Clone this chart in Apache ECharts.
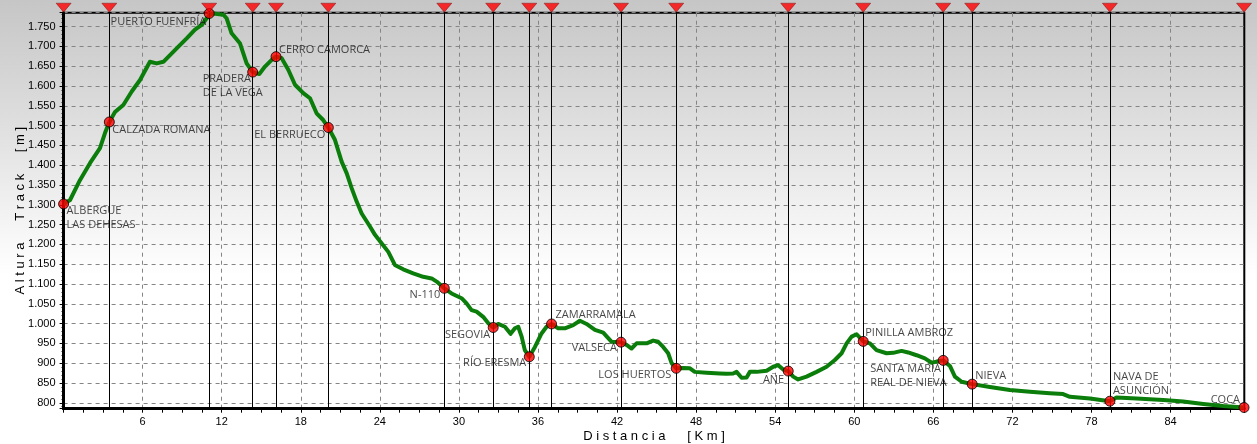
<!DOCTYPE html>
<html>
<head>
<meta charset="utf-8">
<script src="https://cdn.jsdelivr.net/npm/echarts@6/dist/echarts.min.js"></script>
<style>
html,body{margin:0;padding:0;background:#fff;}
#chart{width:1257px;height:444px;}
</style>
</head>
<body>
<div id="chart"></div>
<script>
// ---- data ----
const profileKm = [0,0.49,1.24,2.0,2.76,3.14,3.47,3.9,4.53,5.17,5.8,6.55,7.06,7.57,8.58,9.34,9.97,10.48,10.86,11.1,11.36,12.12,12.37,12.75,13.38,13.89,14.35,14.85,15.28,15.79,16.12,16.55,17.05,17.56,18.19,18.7,19.2,19.7,20.09,20.59,21.1,21.48,21.86,22.24,22.62,23.25,23.63,24.13,24.64,25.14,25.77,26.53,27.29,27.93,28.31,28.89,29.44,30.2,30.58,30.96,31.34,31.84,32.23,32.6,32.98,33.49,33.92,34.25,34.5,34.76,35.0,35.34,35.77,36.27,36.65,37.03,37.53,38.04,38.67,39.18,39.69,40.32,40.95,41.59,42.3,42.72,43.1,43.48,44.24,44.74,45.12,45.5,45.88,46.14,46.49,47.02,47.53,47.9,48.79,49.8,50.31,50.81,51.07,51.45,51.83,52.08,52.59,53.35,53.85,54.23,54.61,54.99,55.37,55.74,56.38,57.14,57.9,58.53,59.04,59.42,59.8,60.18,60.68,61.19,61.69,62.45,62.96,63.59,64.09,64.73,65.36,65.87,66.25,66.75,67.26,67.64,68.15,68.95,70.29,71.81,73.33,74.84,75.85,76.36,77.88,79.4,79.9,81.42,83.44,84.96,86.48,88.0,89.58];
const profileElev = [1302,1312,1362,1405,1443,1481,1509,1534,1552,1586,1615,1661,1657,1661,1695,1720,1742,1754,1771,1780,1783,1780,1771,1733,1708,1657,1635,1630,1649,1666,1674,1670,1641,1603,1582,1569,1531,1514,1495,1464,1409,1380,1342,1308,1278,1245,1224,1203,1181,1148,1137,1127,1118,1114,1106,1089,1076,1064,1051,1034,1030,1017,1001,990,999,992,974,988,992,967,933,916,941,975,992,999,988,988,996,1007,999,984,977,954,953,946,937,950,950,957,954,941,925,900,887,888,887,878,876,874,873,874,878,863,864,878,878,881,891,895,884,880,866,859,866,878,891,908,925,950,967,973,955,950,933,925,926,931,927,920,912,901,904,907,893,866,853,847,840,832,828,824,822,815,811,804,813,811,807,803,797,792,788];

const wpNames = ['ALBERGUE\nLAS DEHESAS','CALZADA ROMANA','PUERTO FUENFRÍA','PRADERA\nDE LA VEGA','CERRO CAMORCA','EL BERRUECO','N-110','SEGOVIA','RÍO ERESMA','ZAMARRAMALA','VALSECA','LOS HUERTOS','AÑE','PINILLA AMBROZ','SANTA MARIA\nREAL DE NIEVA','NIEVA','NAVA DE\nASUNCIÓN','COCA'];
const wpKm = [0,3.47,11.05,14.35,16.12,20.09,28.89,32.6,35.34,37.03,42.3,46.49,54.99,60.68,66.75,68.95,79.4,89.58];
const wpElev = [1302,1509,1783,1635,1674,1495,1089,990,916,999,953,887,880,955,907,847,804,788];

const xMin = 0, xMax = 89.6, xInterval = 6;
const yMin = 785, yMax = 1785, ySplits = 20;
const xTitle = 'D i s t a n c i a      [ K m ]';
const yTitle = 'A l t u r a      T r a c k      [ m ]';

// ---- label layout (style only) ----
const wpLabelLayout = [
  ['left',[3,0]],['left',[3,1]],['right',[-3,1]],['left',[-50,0]],['left',[3,-14]],
  ['right',[-3,0]],['right',[-4,0]],['right',[-3,0]],['right',[-3,-1]],['left',[4,-16]],
  ['right',[-4,-1]],['right',[-5,0]],['right',[-4,2]],['left',[2,-16]],['left',[-73,1]],
  ['left',[3,-15]],['left',[3,-31]],['right',[-4,-15]]
];

const fmtThousands = v => {
  const s = String(Math.round(v));
  return s.length > 3 ? s.slice(0, s.length - 3) + '.' + s.slice(-3) : s;
};

const chart = echarts.init(document.getElementById('chart'), null, {renderer:'canvas'});
const option = {
  animation: false,
  backgroundColor: {
    type: 'linear', x: 0, y: 0, x2: 0, y2: 1,
    colorStops: [
      {offset: 0, color: '#c6c6c6'},
      {offset: 0.25, color: '#dcdcdc'},
      {offset: 0.5, color: '#f4f4f4'},
      {offset: 0.62, color: '#ffffff'},
      {offset: 1, color: '#ffffff'}
    ]
  },
  grid: {
    left: 63.6, right: 12.7, top: 12.7, bottom: 35.3,
    outerBoundsMode: 'none', containLabel: false,
    show: true, borderColor: '#000', borderWidth: 2, backgroundColor: 'transparent'
  },
  xAxis: {
    type: 'value', min: xMin, max: xMax, interval: xInterval,
    name: xTitle, nameLocation: 'middle', nameGap: 21, nameMoveOverlap: false,
    nameTextStyle: {fontFamily: 'Liberation Sans, Arial', fontSize: 13, color: '#000'},
    axisLine: {show: true, onZero: false, lineStyle: {color: '#000', width: 3}},
    axisTick: {show: true, length: 4, lineStyle: {color: '#000', width: 1}},
    minorTick: {show: true, splitNumber: 4, length: 4, lineStyle: {color: '#000', width: 1}},
    axisLabel: {
      margin: 8, fontFamily: 'Liberation Sans, Arial', fontSize: 11, color: '#000',
      showMinLabel: false, showMaxLabel: false
    },
    splitLine: {show: true, lineStyle: {color: '#858585', type: [4, 4], width: 1}}
  },
  yAxis: {
    type: 'value', min: yMin, max: yMax, splitNumber: ySplits,
    name: yTitle, nameLocation: 'middle', nameGap: 37, nameMoveOverlap: false,
    nameTextStyle: {fontFamily: 'Liberation Sans, Arial', fontSize: 13, color: '#000'},
    axisLine: {show: true, lineStyle: {color: '#000', width: 3}},
    axisTick: {show: true, length: 4, lineStyle: {color: '#000', width: 1}},
    minorTick: {show: true, splitNumber: 5, length: 2, lineStyle: {color: '#000', width: 1}},
    axisLabel: {
      margin: 8, fontFamily: 'Liberation Sans, Arial', fontSize: 11, color: '#000',
      showMinLabel: false, showMaxLabel: false,
      formatter: v => fmtThousands(v)
    },
    splitLine: {show: true, lineStyle: {color: '#858585', type: [4, 4], width: 1}}
  },
  series: [
    {
      type: 'line', name: 'markers', data: [], silent: true,
      markLine: {
        silent: true, symbol: ['none', 'none'], label: {show: false},
        lineStyle: {color: '#000', width: 1, type: 'solid'},
        emphasis: {disabled: true},
        data: wpKm.map(k => ({xAxis: k}))
      },
      z: 1
    },
    {
      type: 'line', name: 'profile',
      data: profileKm.map((k, i) => [k, profileElev[i]]),
      showSymbol: false, symbol: 'none', clip: true,
      lineStyle: {color: '#0a7d0a', width: 4, join: 'round'},
      z: 3
    },
    {
      type: 'scatter', name: 'waypoints', clip: false,
      symbol: 'circle', symbolSize: 10,
      itemStyle: {color: '#ff0000', borderColor: '#000', borderWidth: 1},
      data: wpKm.map((k, i) => ({
        value: [k, wpElev[i]],
        name: wpNames[i],
        label: {
          show: true, formatter: wpNames[i], position: 'inside',
          align: wpLabelLayout[i][0], verticalAlign: 'top', offset: wpLabelLayout[i][1],
          fontFamily: 'Open Sans', fontSize: 11, lineHeight: 14, color: '#161616'
        }
      })),
      z: 5
    },
    {
      type: 'scatter', name: 'tops', clip: false,
      symbol: 'triangle', symbolRotate: 180, symbolSize: [15, 9], symbolOffset: [0, -5],
      itemStyle: {color: '#ff0000', borderColor: '#600', borderWidth: 0.5},
      data: wpKm.map(k => [k, yMax]),
      z: 6
    }
  ]
};
chart.setOption(option);
</script>
</body>
</html>
